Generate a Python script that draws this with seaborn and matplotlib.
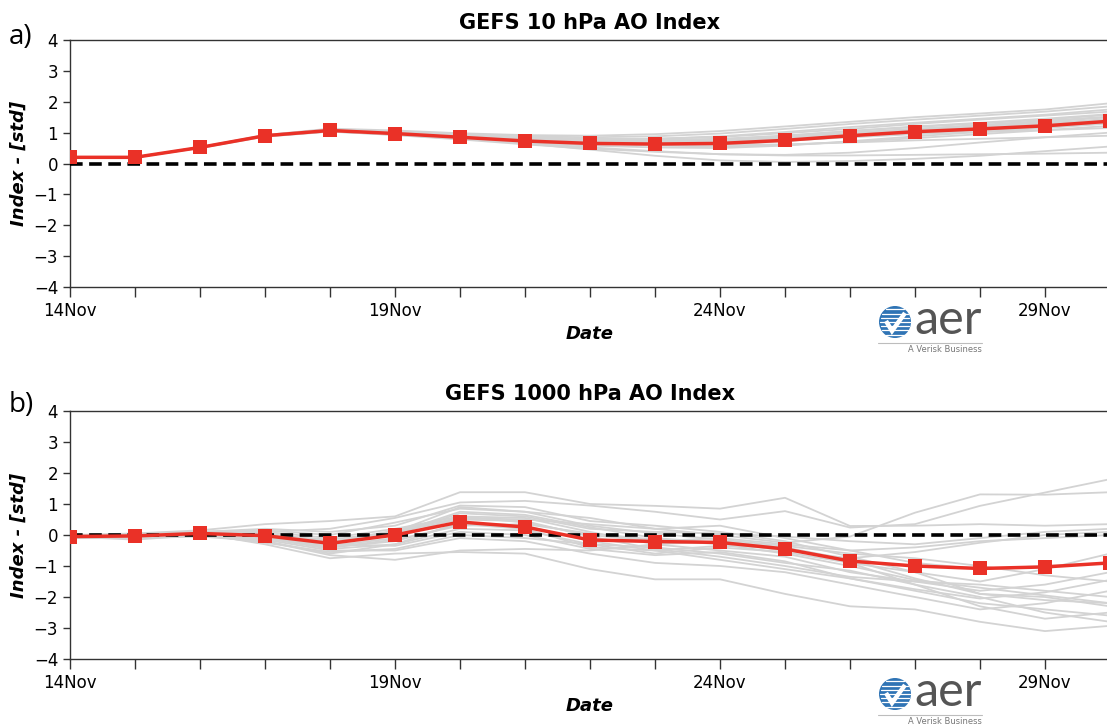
import numpy as np
import pandas as pd
import seaborn as sns
import matplotlib
matplotlib.use("Agg")
import matplotlib.pyplot as plt
from matplotlib.patches import Circle
from matplotlib.lines import Line2D

# ---------------- data ----------------
days = list(range(17))  # 14 Nov .. 30 Nov
tick_days = [0, 5, 10, 15]
tick_labels = ["14Nov", "19Nov", "24Nov", "29Nov"]

mean_10 = [0.2, 0.2, 0.52, 0.9, 1.07, 0.97, 0.85, 0.73, 0.65, 0.63, 0.65, 0.75, 0.9, 1.03, 1.12, 1.22, 1.37]
mean_1000 = [-0.05, -0.03, 0.05, -0.02, -0.27, 0.0, 0.42, 0.26, -0.16, -0.21, -0.24, -0.45, -0.84, -1.0, -1.08, -1.03, -0.9]

members_10 = [
    [0.2, 0.2, 0.52, 0.92, 1.13, 1.07, 0.98, 0.92, 0.9, 0.95, 1.05, 1.2, 1.35, 1.5, 1.62, 1.75, 1.95],
    [0.2, 0.2, 0.52, 0.9, 1.1, 1.03, 0.95, 0.88, 0.85, 0.88, 0.97, 1.12, 1.28, 1.42, 1.55, 1.68, 1.85],
    [0.2, 0.2, 0.53, 0.91, 1.09, 1.0, 0.9, 0.82, 0.78, 0.8, 0.88, 1.02, 1.18, 1.32, 1.45, 1.58, 1.75],
    [0.2, 0.2, 0.52, 0.89, 1.07, 0.98, 0.87, 0.77, 0.72, 0.72, 0.78, 0.9, 1.05, 1.2, 1.32, 1.45, 1.6],
    [0.2, 0.2, 0.51, 0.9, 1.06, 0.97, 0.85, 0.74, 0.68, 0.66, 0.7, 0.82, 0.97, 1.12, 1.25, 1.38, 1.52],
    [0.2, 0.2, 0.52, 0.88, 1.05, 0.95, 0.83, 0.72, 0.65, 0.6, 0.62, 0.72, 0.88, 1.02, 1.15, 1.28, 1.45],
    [0.2, 0.2, 0.52, 0.9, 1.08, 0.99, 0.88, 0.78, 0.7, 0.66, 0.66, 0.75, 0.92, 1.08, 1.2, 1.3, 1.42],
    [0.2, 0.2, 0.5, 0.87, 1.03, 0.93, 0.8, 0.68, 0.58, 0.52, 0.5, 0.58, 0.72, 0.88, 1.02, 1.15, 1.3],
    [0.2, 0.2, 0.53, 0.92, 1.1, 1.02, 0.92, 0.82, 0.75, 0.7, 0.7, 0.76, 0.86, 0.98, 1.08, 1.18, 1.3],
    [0.2, 0.2, 0.52, 0.91, 1.08, 0.99, 0.87, 0.75, 0.65, 0.58, 0.55, 0.6, 0.7, 0.82, 0.95, 1.08, 1.22],
    [0.2, 0.2, 0.51, 0.89, 1.04, 0.94, 0.8, 0.66, 0.52, 0.4, 0.3, 0.28, 0.35, 0.5, 0.68, 0.85, 1.0],
    [0.2, 0.2, 0.52, 0.9, 1.06, 0.96, 0.82, 0.65, 0.45, 0.25, 0.1, 0.05, 0.08, 0.15, 0.25, 0.4, 0.55],
    [0.2, 0.2, 0.52, 0.88, 1.04, 0.92, 0.78, 0.62, 0.48, 0.38, 0.3, 0.26, 0.26, 0.28, 0.3, 0.32, 0.35],
    [0.2, 0.2, 0.53, 0.91, 1.09, 1.01, 0.9, 0.8, 0.74, 0.73, 0.76, 0.85, 0.98, 1.1, 1.22, 1.35, 1.5],
    [0.2, 0.2, 0.52, 0.9, 1.07, 0.98, 0.86, 0.76, 0.69, 0.66, 0.68, 0.78, 0.93, 1.05, 1.15, 1.25, 1.35],
    [0.2, 0.2, 0.52, 0.9, 1.08, 1.0, 0.9, 0.82, 0.78, 0.77, 0.8, 0.9, 1.05, 1.18, 1.3, 1.42, 1.58],
    [0.2, 0.2, 0.51, 0.89, 1.05, 0.96, 0.85, 0.74, 0.66, 0.62, 0.6, 0.62, 0.68, 0.75, 0.8, 0.85, 0.9],
    [0.2, 0.2, 0.52, 0.91, 1.1, 1.03, 0.94, 0.86, 0.8, 0.8, 0.86, 0.98, 1.12, 1.28, 1.42, 1.55, 1.68],
    [0.2, 0.2, 0.52, 0.9, 1.06, 0.97, 0.86, 0.77, 0.72, 0.7, 0.74, 0.86, 1.0, 1.12, 1.22, 1.32, 1.4],
    [0.2, 0.2, 0.52, 0.89, 1.05, 0.95, 0.82, 0.72, 0.66, 0.64, 0.66, 0.74, 0.85, 0.95, 1.02, 1.08, 1.15],
]

members_1000 = [
    [-0.05, 0.05, 0.15, 0.35, 0.45, 0.6, 1.38, 1.38, 1.0, 0.94, 0.85, 1.2, 0.29, 0.3, 0.35, 0.3, 0.35],
    [-0.05, -0.05, 0.1, 0.1, 0.2, 0.55, 1.05, 1.1, 0.95, 0.75, 0.5, 0.77, 0.24, 0.35, 0.94, 1.37, 1.8],
    [-0.1, -0.1, 0.0, -0.1, -0.3, 0.1, 0.9, 0.75, 0.55, 0.2, 0.0, -0.25, -0.05, 0.72, 1.31, 1.3, 1.38],
    [-0.05, 0.0, 0.05, -0.05, -0.35, -0.1, 0.6, 0.55, 0.1, -0.3, -0.5, -0.7, -1.2, -1.5, -1.8, -1.6, -1.2],
    [-0.05, -0.15, 0.0, -0.2, -0.6, -0.3, 0.4, 0.3, -0.2, -0.5, -0.8, -1.1, -1.4, -1.8, -2.2, -2.4, -2.6],
    [0.0, -0.05, 0.05, -0.3, -0.75, -0.6, -0.55, -0.6, -1.1, -1.43, -1.43, -1.9, -2.3, -2.4, -2.8, -3.1, -2.93],
    [-0.05, 0.0, 0.1, 0.2, 0.1, 0.3, 0.95, 0.9, 0.45, 0.3, 0.1, -0.2, -0.7, -1.2, -1.9, -2.0, -2.3],
    [-0.1, -0.05, 0.05, 0.0, -0.4, -0.2, 0.35, 0.2, -0.4, -0.5, -0.35, -0.4, -0.9, -1.6, -2.0, -2.5, -2.8],
    [-0.05, -0.1, 0.0, -0.15, -0.5, -0.5, -0.1, -0.2, -0.6, -0.9, -1.0, -1.2, -1.6, -2.0, -2.4, -2.2, -1.8],
    [0.0, 0.05, 0.1, 0.1, -0.1, 0.2, 0.6, 0.4, 0.0, -0.2, -0.1, -0.3, -0.5, -0.4, -0.2, -0.1, 0.0],
    [-0.05, -0.05, 0.0, -0.1, -0.45, -0.3, 0.2, 0.15, -0.3, -0.6, -0.4, -0.55, -0.9, -1.2, -1.5, -1.1, -0.6],
    [-0.1, -0.1, -0.05, -0.2, -0.65, -0.8, -0.5, -0.45, -0.5, -0.3, -0.2, -0.4, -0.8, -1.4, -1.9, -2.1, -2.2],
    [-0.05, 0.0, 0.05, 0.05, -0.2, 0.0, 0.7, 0.6, 0.2, 0.1, 0.05, -0.05, -0.2, -0.3, -0.1, 0.1, 0.2],
    [0.0, 0.0, 0.1, 0.15, 0.0, 0.4, 0.85, 0.75, 0.3, 0.05, -0.15, -0.35, -0.6, -0.75, -1.0, -1.3, -1.5],
    [-0.05, -0.05, 0.05, -0.05, -0.3, -0.35, 0.1, 0.0, -0.45, -0.65, -0.55, -0.85, -1.4, -1.75, -2.05, -1.85, -1.45],
    [-0.05, -0.1, 0.0, -0.25, -0.55, -0.45, 0.0, -0.1, -0.3, -0.4, -0.6, -0.9, -1.15, -1.6, -2.3, -2.7, -2.5],
    [-0.05, 0.0, 0.05, 0.0, -0.25, 0.15, 0.55, 0.5, 0.35, 0.2, 0.3, -0.1, -0.5, -0.9, -1.1, -1.0, -0.9],
    [-0.1, -0.05, 0.05, -0.1, -0.4, -0.15, 0.3, 0.35, 0.05, -0.15, -0.3, -0.6, -1.0, -1.45, -1.7, -1.95, -2.2],
    [0.0, -0.05, 0.1, 0.0, -0.15, 0.1, 0.5, 0.45, -0.05, -0.45, -0.7, -1.0, -1.35, -1.5, -1.6, -1.8, -2.0],
    [-0.05, 0.0, 0.05, -0.05, -0.3, 0.05, 0.75, 0.65, 0.25, -0.1, -0.25, -0.5, -0.75, -0.55, -0.25, 0.0, 0.1],
]

titles = ["GEFS 10 hPa AO Index", "GEFS 1000 hPa AO Index"]
panel_labels = ["a)", "b)"]

# ---------------- style ----------------
sns.set_theme(style="ticks")
plt.rcParams["font.family"] = ["DejaVu Sans"]
plt.rcParams["text.color"] = "black"
plt.rcParams["axes.labelcolor"] = "black"

W, H = 1107, 726
fig = plt.figure(figsize=(W / 100, H / 100), dpi=100)

def px_axes(left, top, right, bottom):
    return fig.add_axes([left / W, 1 - bottom / H, (right - left) / W, (bottom - top) / H])

axes = [px_axes(70, 40, 1110, 287), px_axes(70, 411, 1110, 659)]

def member_frame(members):
    rows = []
    for i, m in enumerate(members):
        for d, v in zip(days, m):
            rows.append({"day": d, "value": v, "member": i})
    return pd.DataFrame(rows)

red = "#ea3127"
for ax, members, mean, title in zip(axes, [members_10, members_1000], [mean_10, mean_1000], titles):
    dfm = member_frame(members)
    sns.lineplot(data=dfm, x="day", y="value", units="member", estimator=None,
                 color="#d3d3d3", linewidth=1.3, ax=ax, legend=False)
    ax.axhline(0, color="black", linestyle=(0, (3.5, 1.8)), linewidth=2.6, zorder=3)
    dmean = pd.DataFrame({"day": days, "value": mean})
    sns.lineplot(data=dmean, x="day", y="value", color=red, linewidth=2.5,
                 marker="s", markersize=9.5, markeredgewidth=0, ax=ax, zorder=4)
    ax.set_xlim(0, 16)
    ax.set_ylim(-4, 4)
    ax.set_yticks(range(-4, 5))
    ax.set_xticks(tick_days)
    ax.set_xticklabels(tick_labels)
    ax.set_xticks(days, minor=True)
    ax.tick_params(axis="x", which="both", length=7, width=1, colors="#333333", labelsize=12, labelcolor="black")
    ax.tick_params(axis="y", length=5, width=1, colors="#333333", labelsize=12, labelcolor="black")
    for s in ax.spines.values():
        s.set_color("#333333")
        s.set_linewidth(1.0)
    ax.set_title(title, fontsize=15, fontweight="bold", pad=8, color="black")
    ax.set_xlabel("Date", fontsize=13, fontweight="bold", fontstyle="italic")
    ax.set_ylabel("Index - [std]", fontsize=13, fontweight="bold", fontstyle="italic", labelpad=4)

# panel labels
fig.text(9 / W, 1 - 37 / H, panel_labels[0], fontsize=20, family="Open Sans", va="center", ha="left", color="black")
fig.text(9 / W, 1 - 405 / H, panel_labels[1], fontsize=20, family="Open Sans", va="center", ha="left", color="black")

# AER logos
def draw_logo(cx, cy):
    r = 16
    circ = Circle((cx / 100, (H - cy) / 100), r / 100, transform=fig.dpi_scale_trans,
                  facecolor="#2f74b5", edgecolor="none")
    fig.add_artist(circ)
    for k in range(-3, 4):
        yy = cy + k * 4.2
        half = np.sqrt(max(r * r - (k * 4.2) ** 2, 0)) - 1
        fig.add_artist(Line2D([(cx - half) / W, (cx + half) / W], [1 - yy / H, 1 - yy / H],
                              transform=fig.transFigure, color="white", linewidth=0.9))
    fig.add_artist(Line2D([(cx - 9) / W, (cx - 3) / W, (cx + 10) / W],
                          [1 - (cy - 1) / H, 1 - (cy + 9) / H, 1 - (cy - 9) / H],
                          transform=fig.transFigure, color="white", linewidth=3.2,
                          solid_capstyle="butt", solid_joinstyle="miter"))
    fig.text((cx + 19) / W, 1 - (cy - 2) / H, "aer", fontsize=35, color="#555555",
             family="Lato", fontweight="normal", va="center", ha="left")
    fig.add_artist(Line2D([(cx - 17) / W, (cx + 87) / W], [1 - (cy + 21) / H, 1 - (cy + 21) / H],
                          transform=fig.transFigure, color="#bdbdbd", linewidth=0.8))
    fig.text((cx + 87) / W, 1 - (cy + 28) / H, "A Verisk Business", fontsize=6, color="#777777",
             family="Liberation Sans Narrow", va="center", ha="right")

draw_logo(895, 322)
draw_logo(895, 694)

fig.savefig("out.png", dpi=100)
